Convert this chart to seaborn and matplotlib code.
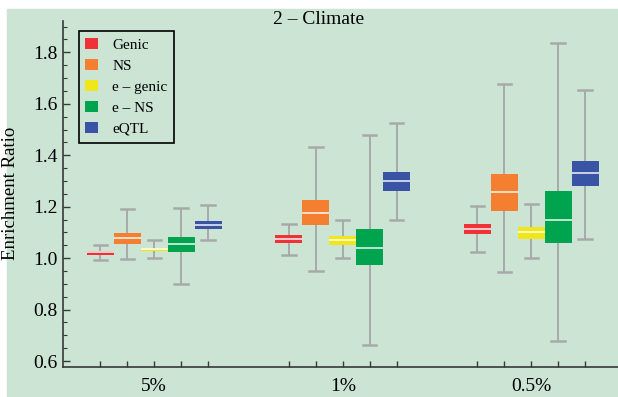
import numpy as np
import pandas as pd
import matplotlib
matplotlib.use("Agg")
import matplotlib.pyplot as plt
import seaborn as sns
from matplotlib.patches import Patch, Rectangle

# -------------------------
# data
# -------------------------
thresholds = ["5%", "1%", "0.5%"]
classes = ["Genic", "NS", "e \u2013 genic", "e \u2013 NS", "eQTL"]
colors = ["#ee3238", "#f47f31", "#efe71b", "#00a44f", "#3954a4"]

# one value per (threshold, class), threshold-major order
whisk_lo = [0.993, 0.998, 1.000, 0.899, 1.072,
            1.013, 0.950, 1.002, 0.663, 1.149,
            1.022, 0.948, 1.002, 0.676, 1.074]
q1 = [1.013, 1.055, 1.026, 1.022, 1.114,
      1.059, 1.129, 1.052, 0.974, 1.261,
      1.094, 1.185, 1.075, 1.057, 1.282]
median = [1.022, 1.078, 1.035, 1.054, 1.130,
          1.075, 1.176, 1.070, 1.041, 1.300,
          1.114, 1.257, 1.101, 1.150, 1.331]
q3 = [1.028, 1.098, 1.041, 1.083, 1.145,
      1.090, 1.226, 1.088, 1.114, 1.335,
      1.133, 1.327, 1.120, 1.261, 1.378]
whisk_hi = [1.050, 1.190, 1.070, 1.195, 1.208,
            1.132, 1.432, 1.150, 1.480, 1.525,
            1.204, 1.678, 1.212, 1.836, 1.655]

# five numbers per box -> seaborn recovers exactly these quartiles / extremes
rows = []
k = 0
for t in thresholds:
    for c in classes:
        for v in (whisk_lo[k], q1[k], median[k], q3[k], whisk_hi[k]):
            rows.append({"threshold": t, "cls": c, "ratio": v})
        k += 1
df = pd.DataFrame(rows)

BG = "#cbe4d4"
SPINE = "#383838"
WHISK = "#a7aaa8"

plt.rcParams["font.family"] = ["Liberation Serif", "DejaVu Serif"]

fig = plt.figure(figsize=(6.18, 3.97), dpi=100)
fig.patch.set_facecolor("white")
fig.patches.append(Rectangle((7 / 618, 0), 611 / 618, 388 / 397,
                             transform=fig.transFigure, color=BG, zorder=-10))

ax = fig.add_axes([63 / 618, 30.3 / 397, 555 / 618, 346 / 397])
ax.set_facecolor("none")

sns.boxplot(data=df, x="threshold", y="ratio", hue="cls",
            order=thresholds, hue_order=classes, palette=colors,
            width=5 / 7, gap=0, whis=(0, 100), saturation=1, fliersize=0,
            linewidth=1.1, legend=False, ax=ax,
            boxprops={"edgecolor": "none", "linewidth": 0},
            whiskerprops={"color": WHISK, "linewidth": 1.4},
            capprops={"color": WHISK, "linewidth": 1.8},
            medianprops={"color": "white", "linewidth": 1.3, "alpha": 0.8})

ax.set_xlim(-0.484, 2.46)
ax.set_ylim(0.578, 1.923)

# ticks
ax.set_xticks([0, 1, 2])
ax.set_xticklabels(thresholds)
ax.set_xticks([g + d / 7 for g in range(3) for d in (-2, -1, 1, 2)], minor=True)
ax.tick_params(axis="x", which="both", direction="in", length=4, width=1,
               color=SPINE, labelsize=14, pad=8)
ax.set_yticks(np.arange(0.6, 1.81, 0.2))
ax.set_yticklabels([f"{v:.1f}" for v in np.arange(0.6, 1.81, 0.2)])
ax.set_yticks(np.arange(0.6, 1.92, 0.05), minor=True)
ax.tick_params(axis="y", which="major", direction="in", length=5, width=1,
               color=SPINE, labelsize=14, pad=4)
ax.tick_params(axis="y", which="minor", direction="in", length=3, width=0.8,
               color=SPINE)

ax.set_xlabel("")
ax.set_ylabel("Enrichment Ratio", fontsize=13.5, labelpad=10)

for s in ("top", "right"):
    ax.spines[s].set_visible(False)
for s in ("left", "bottom"):
    ax.spines[s].set_color(SPINE)
    ax.spines[s].set_linewidth(1.2)

fig.text(319 / 618, (397 - 20) / 397, "2 \u2013 Climate", fontsize=14,
         ha="center", va="center")

handles = [Patch(facecolor=c, edgecolor="none") for c in colors]
leg = ax.legend(handles, classes, loc="upper left",
                bbox_to_anchor=(0.028, 0.971), borderaxespad=0,
                fontsize=11, frameon=True, fancybox=False,
                facecolor=BG, edgecolor="black", framealpha=1,
                handlelength=0.85, handleheight=0.8, handletextpad=0.9,
                labelspacing=0.45, borderpad=0.45)
leg.get_frame().set_linewidth(1.2)

fig.savefig("out.png", dpi=100)
